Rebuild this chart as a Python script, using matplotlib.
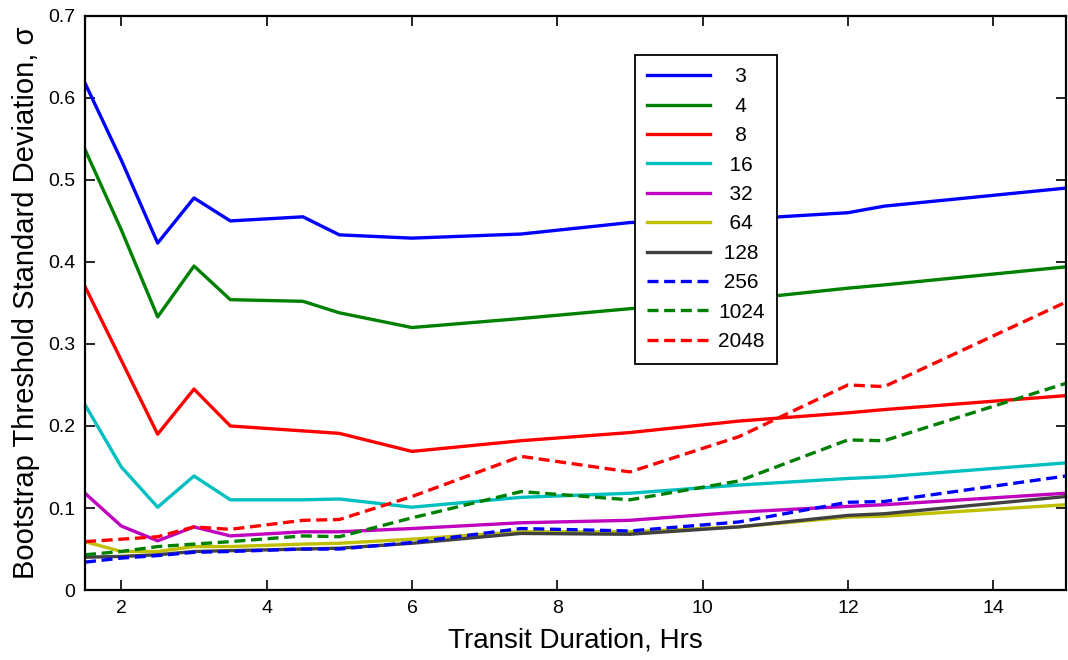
import matplotlib
matplotlib.use("Agg")
import matplotlib.pyplot as plt
from matplotlib.ticker import FuncFormatter

plt.rcParams['font.family'] = ['Liberation Sans', 'DejaVu Sans']

# Transit durations (hours)
durations = [1.5, 2.0, 2.5, 3.0, 3.5, 4.5, 5.0, 6.0, 7.5, 9.0, 10.5, 12.0, 12.5, 15.0]

# Bootstrap threshold standard deviation per number of ... (legend values)
sig_3 = [0.618, 0.524, 0.423, 0.478, 0.450, 0.455, 0.433, 0.429, 0.434, 0.448, 0.452, 0.460, 0.468, 0.490]
sig_4 = [0.537, 0.439, 0.333, 0.395, 0.354, 0.352, 0.338, 0.320, 0.331, 0.343, 0.354, 0.368, 0.372, 0.394]
sig_8 = [0.370, 0.280, 0.190, 0.245, 0.200, 0.194, 0.191, 0.169, 0.182, 0.192, 0.206, 0.216, 0.220, 0.237]
sig_16 = [0.226, 0.150, 0.101, 0.139, 0.110, 0.110, 0.111, 0.101, 0.113, 0.118, 0.128, 0.136, 0.138, 0.155]
sig_32 = [0.118, 0.078, 0.060, 0.077, 0.066, 0.071, 0.071, 0.075, 0.082, 0.085, 0.095, 0.102, 0.104, 0.118]
sig_64 = [0.059, 0.047, 0.047, 0.053, 0.053, 0.056, 0.057, 0.062, 0.071, 0.071, 0.077, 0.089, 0.090, 0.104]
sig_128 = [0.040, 0.041, 0.043, 0.047, 0.048, 0.050, 0.051, 0.057, 0.069, 0.068, 0.077, 0.091, 0.093, 0.114]
sig_256 = [0.034, 0.039, 0.042, 0.046, 0.047, 0.050, 0.050, 0.058, 0.075, 0.072, 0.083, 0.107, 0.108, 0.139]
sig_1024 = [0.043, 0.047, 0.053, 0.056, 0.059, 0.066, 0.065, 0.088, 0.120, 0.110, 0.133, 0.183, 0.182, 0.252]
sig_2048 = [0.059, 0.062, 0.065, 0.077, 0.074, 0.085, 0.086, 0.114, 0.163, 0.144, 0.187, 0.250, 0.248, 0.351]

labels = ['3', '4', '8', '16', '32', '64', '128', '256', '1024', '2048']
series = [sig_3, sig_4, sig_8, sig_16, sig_32, sig_64, sig_128, sig_256, sig_1024, sig_2048]
colors = [(0, 0, 1), (0, 0.5, 0), (1, 0, 0), (0, 0.75, 0.75), (0.75, 0, 0.75),
          (0.75, 0.75, 0), (0.25, 0.25, 0.25), (0, 0, 1), (0, 0.5, 0), (1, 0, 0)]
dashed = [False] * 7 + [True] * 3

fig = plt.figure(figsize=(10.68, 6.6), dpi=100)
ax = fig.add_axes([0.0796, 0.106, 0.9184, 0.870])

for lab, ys, c, d in zip(labels, series, colors, dashed):
    # pad short labels so they sit centred like the original legend
    pad = ' ' * (4 - len(lab))
    if d:
        ax.plot(durations, ys, color=c, lw=2.4, dashes=(3.3, 1.7), label=pad + lab)
    else:
        ax.plot(durations, ys, color=c, lw=2.4, label=pad + lab)

ax.set_xlim(1.5, 15)
ax.set_ylim(0, 0.7)
ax.set_xticks([2, 4, 6, 8, 10, 12, 14])
ax.set_yticks([0, 0.1, 0.2, 0.3, 0.4, 0.5, 0.6, 0.7])
ax.yaxis.set_major_formatter(FuncFormatter(lambda v, p: '0' if v == 0 else f'{v:.1f}'))
ax.tick_params(direction='in', length=7, width=1.2, labelsize=14, top=True, right=True, pad=7)
for s in ax.spines.values():
    s.set_linewidth(1.6)

ax.set_xlabel('Transit Duration, Hrs', fontsize=20, labelpad=8)
ax.set_ylabel('Bootstrap Threshold Standard Deviation, σ', fontsize=21, labelpad=6)

leg = ax.legend(loc='upper left', bbox_to_anchor=(0.5607, 0.932), borderaxespad=0,
                fontsize=15, handlelength=3.0, handletextpad=0.4, labelspacing=0.5,
                fancybox=False, framealpha=1, edgecolor='black', borderpad=0.6)
leg.get_frame().set_linewidth(1.3)

fig.savefig('out.png', dpi=100)
